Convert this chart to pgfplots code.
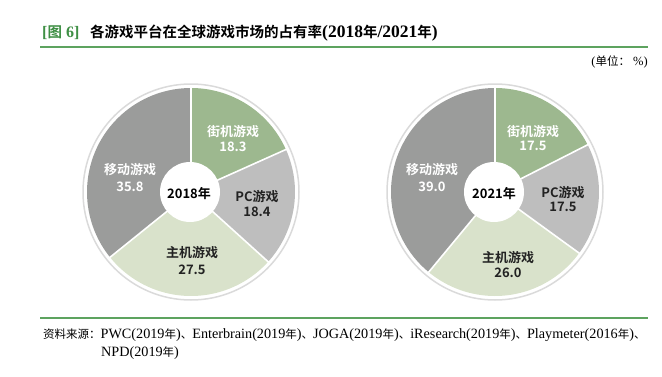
\documentclass[border=0pt]{standalone}
\usepackage{pgfplots}
\usepackage{pgfplotstable}
\pgfplotsset{compat=1.18}
\usepackage{fontspec}
\setmainfont{Liberation Serif}
\newfontfamily\cjk{Noto Sans CJK SC}[BoldFont={Noto Sans CJK SC Bold}]
\newcommand\C[1]{{\cjk\fontsize{11.5}{13}\selectfont #1}}
\newcommand\T[1]{{\cjk\fontsize{14.5}{16}\selectfont #1}}
\definecolor{arcc}{HTML}{9DB88F}
\definecolor{pcc}{HTML}{BEBEBE}
\definecolor{conc}{HTML}{D9E2CB}
\definecolor{mobc}{HTML}{9B9C9B}
\definecolor{ringc}{HTML}{DADADA}
\definecolor{tgreen}{HTML}{3F8F45}
\definecolor{lgreen}{HTML}{5DA35F}
\definecolor{dtext}{HTML}{222222}

\pgfplotstableread{
year arcade pc console mobile
2018 18.3 18.4 27.5 35.8
2021 17.5 17.5 26.0 39.0
}\shares

% 2018
\pgfplotstablegetelem{0}{arcade}\of\shares \let\LA\pgfplotsretval
\pgfplotstablegetelem{0}{pc}\of\shares \let\LB\pgfplotsretval
\pgfplotstablegetelem{0}{console}\of\shares \let\LC\pgfplotsretval
\pgfplotstablegetelem{0}{mobile}\of\shares \let\LD\pgfplotsretval
% 2021
\pgfplotstablegetelem{1}{arcade}\of\shares \let\RA\pgfplotsretval
\pgfplotstablegetelem{1}{pc}\of\shares \let\RB\pgfplotsretval
\pgfplotstablegetelem{1}{console}\of\shares \let\RC\pgfplotsretval
\pgfplotstablegetelem{1}{mobile}\of\shares \let\RD\pgfplotsretval

\pgfmathsetmacro\Lea{90-3.6*\LA}
\pgfmathsetmacro\Leb{\Lea-3.6*\LB}
\pgfmathsetmacro\Lec{\Leb-3.6*\LC}
\pgfmathsetmacro\Rea{90-3.6*\RA}
\pgfmathsetmacro\Reb{\Rea-3.6*\RB}
\pgfmathsetmacro\Rec{\Reb-3.6*\RC}

\newcommand\sector[5]{%
  \fill[#5] (axis cs:#1,#2) -- ++(#3:104pt) arc[start angle=#3,end angle=#4,radius=104pt] -- cycle;}
\newcommand\sep[3]{%
  \draw[white,line width=1.6pt] (axis cs:#1,#2) -- ++(#3:105pt);}

\begin{document}
\begin{tikzpicture}
\begin{axis}[x=1pt,y=1pt,xmin=0,xmax=662,ymin=0,ymax=376,hide axis,clip=false]
\path (axis cs:0,0) rectangle (axis cs:662,376);
% title
\node[anchor=west,text=tgreen,font=\fontsize{16}{18}\selectfont\bfseries,inner sep=0pt] at (axis cs:42,343) {[\T{图}\hspace{4pt}6]};
\node[anchor=west,font=\fontsize{17.5}{19}\selectfont\bfseries,inner sep=0pt] at (axis cs:90,343) {\T{各游戏平台在全球游戏市场的占有率}(2018\T{年}/2021\T{年})};
\draw[lgreen,line width=1.8pt] (axis cs:40,329) -- (axis cs:648,329);
\node[anchor=east,font=\fontsize{12.5}{14}\selectfont,inner sep=0pt] at (axis cs:648,314) {(\C{单位：} \%)};
% pies
\draw[ringc,line width=1.5pt] (axis cs:191,184) circle[radius=108pt];
\draw[ringc,line width=1.5pt] (axis cs:495,184) circle[radius=108pt];
\sector{191}{184}{90}{\Lea}{arcc}
\sector{191}{184}{\Lea}{\Leb}{pcc}
\sector{191}{184}{\Leb}{\Lec}{conc}
\sector{191}{184}{\Lec}{-270}{mobc}
\sep{191}{184}{90}\sep{191}{184}{\Lea}\sep{191}{184}{\Leb}\sep{191}{184}{\Lec}
\sector{495}{184}{90}{\Rea}{arcc}
\sector{495}{184}{\Rea}{\Reb}{pcc}
\sector{495}{184}{\Reb}{\Rec}{conc}
\sector{495}{184}{\Rec}{-270}{mobc}
\sep{495}{184}{90}\sep{495}{184}{\Rea}\sep{495}{184}{\Reb}\sep{495}{184}{\Rec}
\fill[white] (axis cs:190,184) circle[radius=30pt];
\fill[white] (axis cs:494,184) circle[radius=30pt];
% labels
\begin{scope}[every node/.style={font=\cjk\fontsize{13}{15}\selectfont\bfseries,inner sep=0pt}]
\node[text=white] at (axis cs:233,244) {街机游戏};
\node[text=white] at (axis cs:233,229) {\LA};
\node[text=dtext] at (axis cs:257,179) {PC游戏};
\node[text=dtext] at (axis cs:257,164) {\LB};
\node[text=dtext] at (axis cs:192,123) {主机游戏};
\node[text=dtext] at (axis cs:192,106) {\LC};
\node[text=white] at (axis cs:130,206) {移动游戏};
\node[text=white] at (axis cs:130,189) {\LD};
\node[text=black] at (axis cs:189,182) {2018年};
\node[text=white] at (axis cs:533,244) {街机游戏};
\node[text=white] at (axis cs:533,230) {\RA};
\node[text=dtext] at (axis cs:563,183) {PC游戏};
\node[text=dtext] at (axis cs:563,169) {\RB};
\node[text=dtext] at (axis cs:508,118) {主机游戏};
\node[text=dtext] at (axis cs:508,103) {\RC};
\node[text=white] at (axis cs:432,206) {移动游戏};
\node[text=white] at (axis cs:432,189) {\RD};
\node[text=black] at (axis cs:494,182) {2021年};
\end{scope}
% source
\draw[lgreen,line width=1.8pt] (axis cs:40,58) -- (axis cs:648,58);
\node[anchor=west,font=\fontsize{14.2}{15}\selectfont,inner sep=0pt] at (axis cs:43,41) {\C{资料来源：}PWC(2019\C{年})\C{、}Enterbrain(2019\C{年})\C{、}JOGA(2019\C{年})\C{、}iResearch(2019\C{年})\C{、}Playmeter(2016\C{年})\C{、}};
\node[anchor=west,font=\fontsize{14.2}{15}\selectfont,inner sep=0pt] at (axis cs:101,23) {NPD(2019\C{年})};
\end{axis}
\end{tikzpicture}
\end{document}
